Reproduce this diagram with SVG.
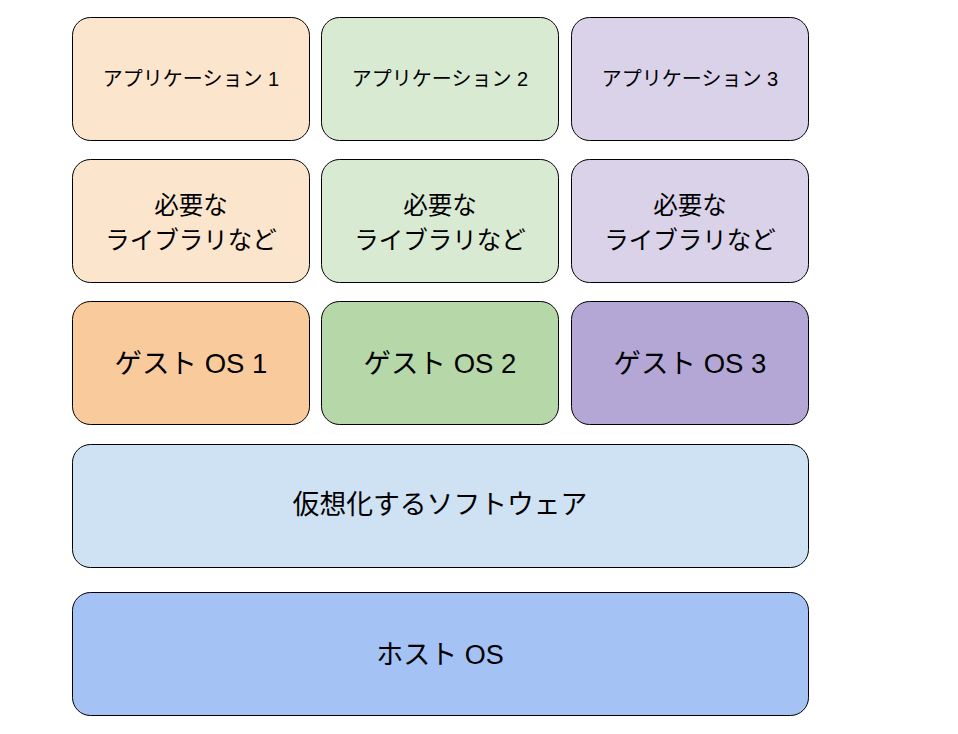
<svg xmlns="http://www.w3.org/2000/svg" width="958" height="734" viewBox="0 0 958 734">
<style>
rect{stroke:#000;stroke-width:1}
text{font-family:"Liberation Sans","Noto Sans CJK JP",sans-serif;text-anchor:middle;dominant-baseline:central;fill:#000}
.s{font-size:20px}
.l{font-size:24.5px}
.g{font-size:27.5px}
.v{font-size:26.8px}
.h{font-size:27px}
</style>
<rect width="958" height="734" fill="#fff" style="stroke:none"/>
<g id="app1"><rect x="72.5" y="17.5" width="237" height="123" rx="18" fill="#fce5cd"/><text class="s" x="191" y="79">アプリケーション 1</text></g>
<g id="app2"><rect x="321.5" y="17.5" width="237" height="123" rx="18" fill="#d9ead3"/><text class="s" x="440" y="79">アプリケーション 2</text></g>
<g id="app3"><rect x="571.5" y="17.5" width="237" height="123" rx="18" fill="#d9d2e9"/><text class="s" x="690" y="79">アプリケーション 3</text></g>
<g id="lib1"><rect x="72.5" y="159.5" width="237" height="123" rx="18" fill="#fce5cd"/><text class="l" x="191" y="205">必要な</text><text class="l" x="191" y="240">ライブラリなど</text></g>
<g id="lib2"><rect x="321.5" y="159.5" width="237" height="123" rx="18" fill="#d9ead3"/><text class="l" x="440" y="205">必要な</text><text class="l" x="440" y="240">ライブラリなど</text></g>
<g id="lib3"><rect x="571.5" y="159.5" width="237" height="123" rx="18" fill="#d9d2e9"/><text class="l" x="690" y="205">必要な</text><text class="l" x="690" y="240">ライブラリなど</text></g>
<g id="os1"><rect x="72.5" y="301.5" width="237" height="123" rx="18" fill="#f9cb9c"/><text class="g" x="191" y="363">ゲスト OS 1</text></g>
<g id="os2"><rect x="321.5" y="301.5" width="237" height="123" rx="18" fill="#b6d7a8"/><text class="g" x="440" y="363">ゲスト OS 2</text></g>
<g id="os3"><rect x="571.5" y="301.5" width="237" height="123" rx="18" fill="#b4a7d6"/><text class="g" x="690" y="363">ゲスト OS 3</text></g>
<g id="virt"><rect x="72.5" y="444.5" width="736" height="123" rx="18" fill="#cfe2f3"/><text class="v" x="440" y="505">仮想化するソフトウェア</text></g>
<g id="host"><rect x="72.5" y="592.5" width="736" height="123" rx="18" fill="#a4c2f4"/><text class="h" x="440" y="655">ホスト OS</text></g>
<g id="connectors"></g>
</svg>
